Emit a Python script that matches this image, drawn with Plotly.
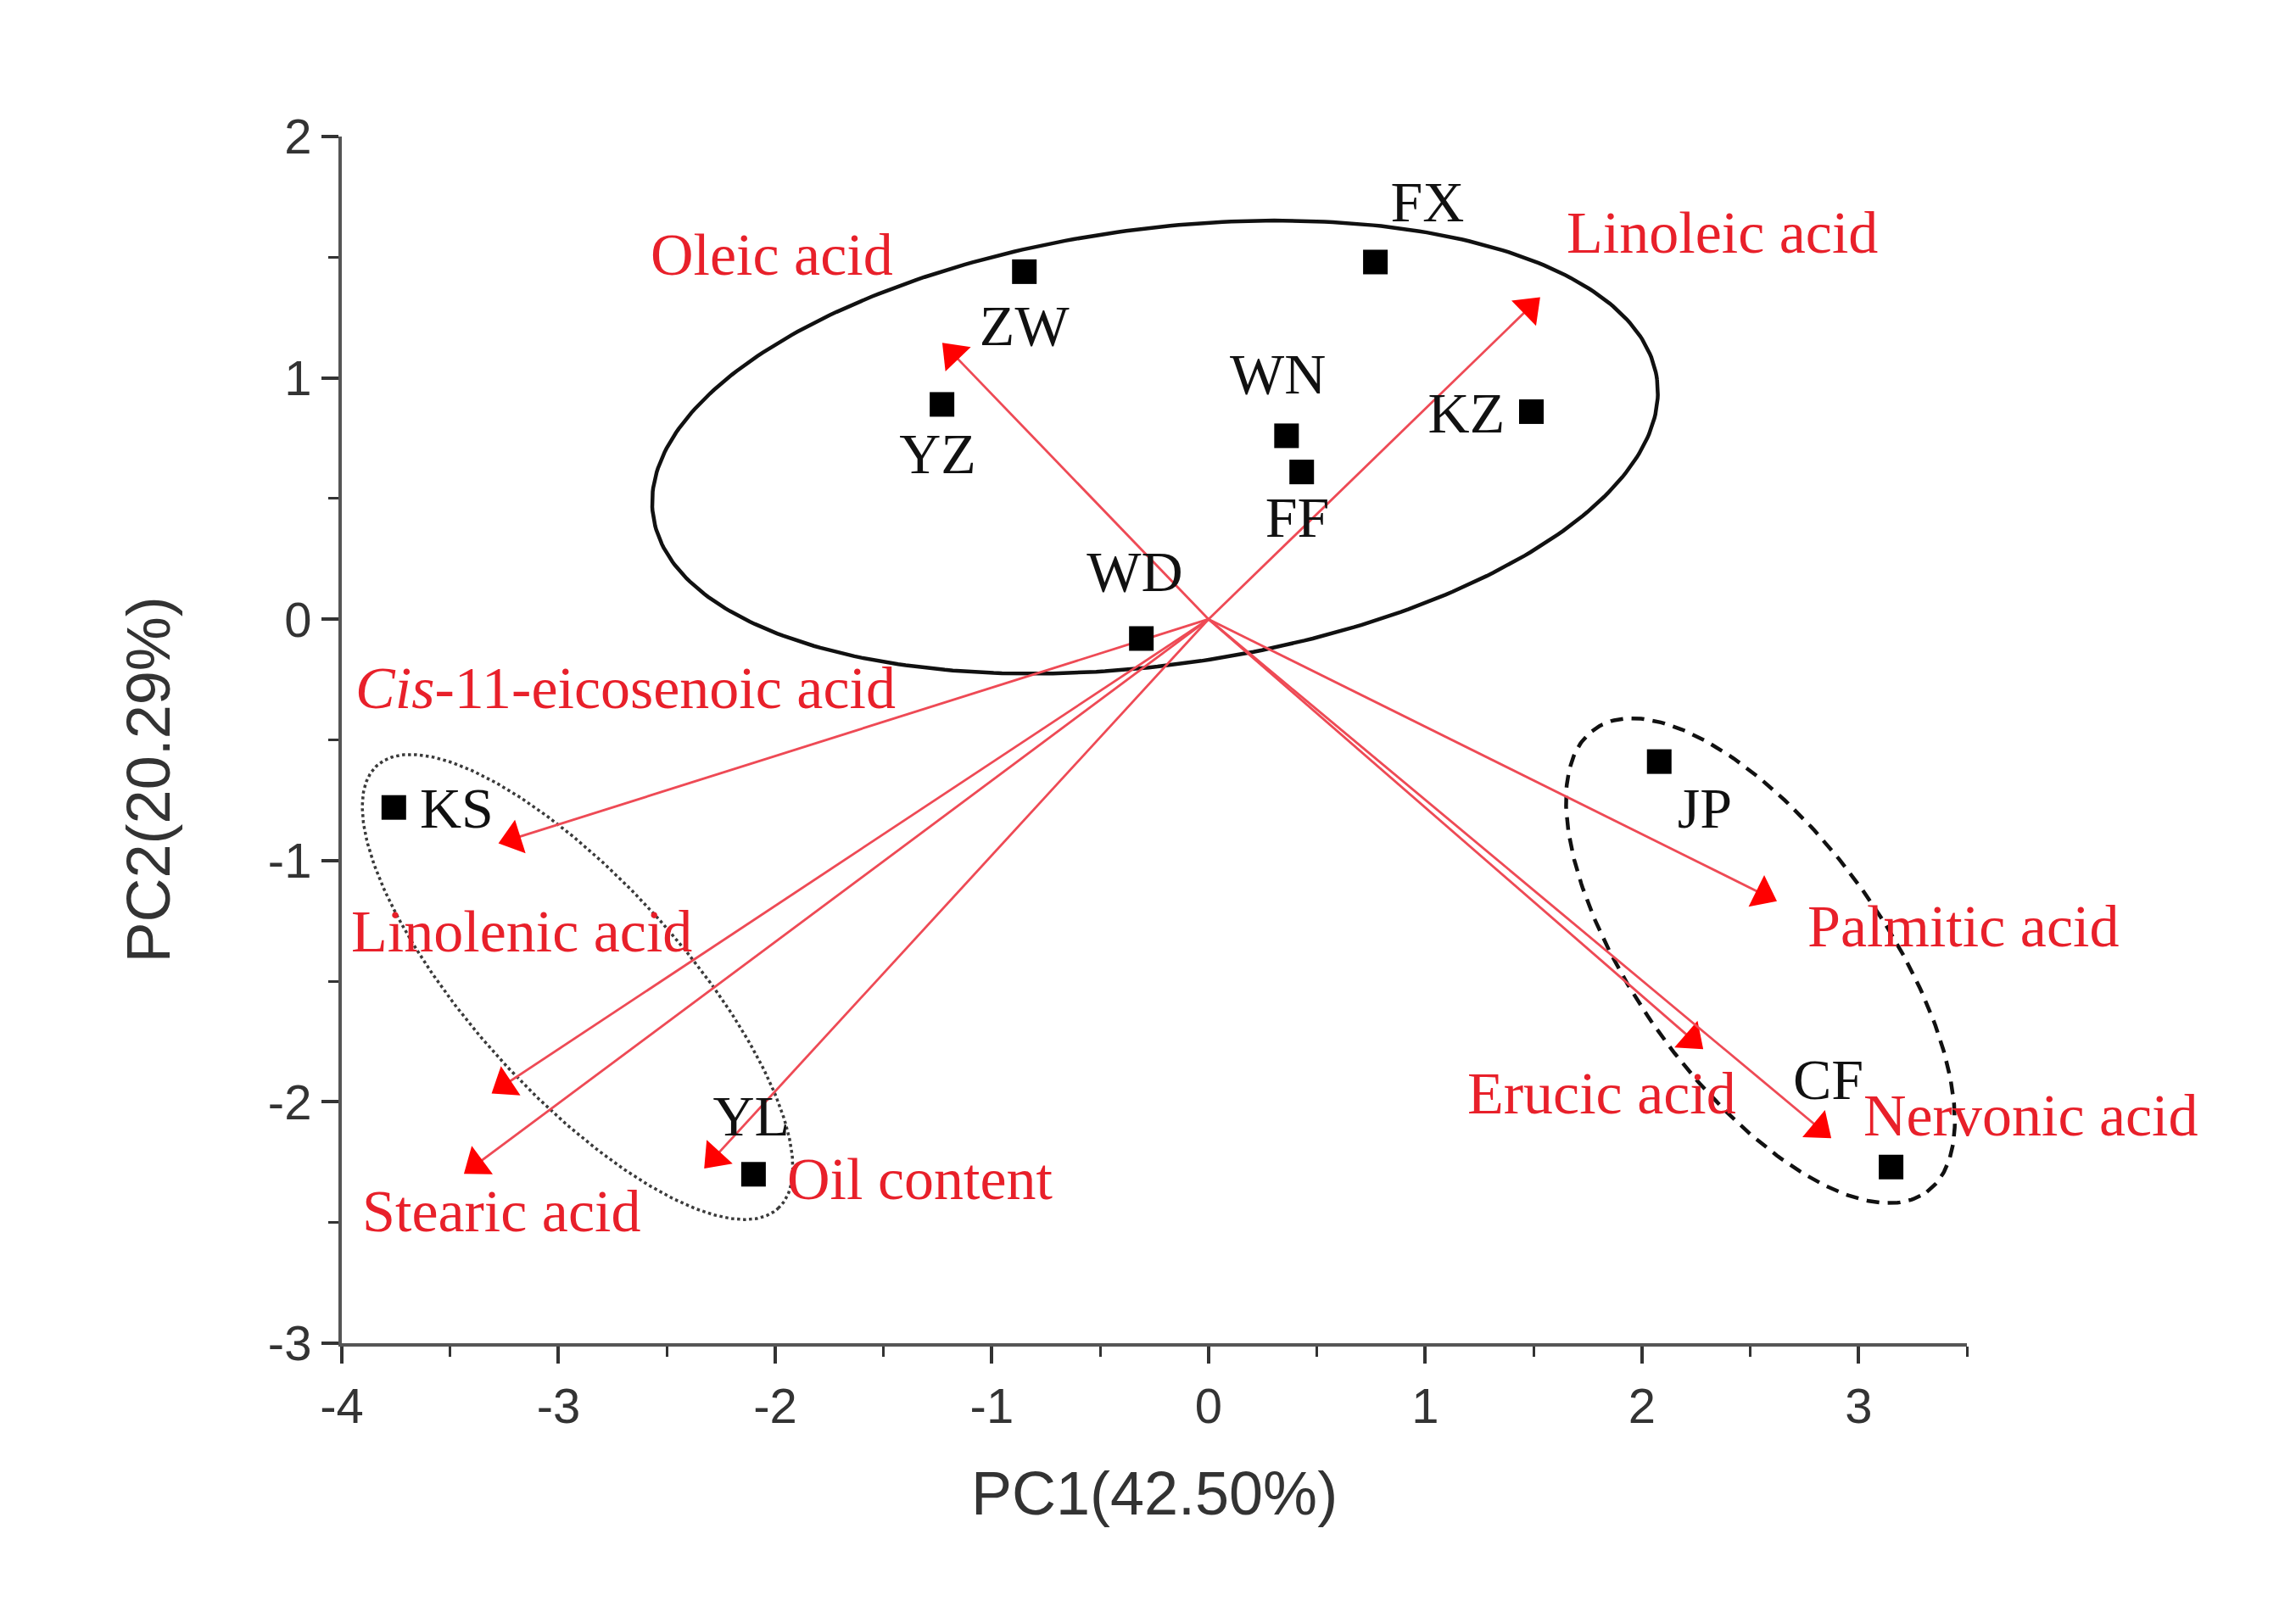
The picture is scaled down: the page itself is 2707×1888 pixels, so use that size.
import numpy as np
import plotly.graph_objects as go

# ---------------- data ----------------
sample_names = ["ZW", "FX", "YZ", "WN", "FF", "KZ", "WD", "KS", "JP", "YL", "CF"]
pc1_scores = [-0.85, 0.77, -1.23, 0.36, 0.43, 1.49, -0.31, -3.76, 2.08, -2.10, 3.15]
pc2_scores = [1.44, 1.48, 0.89, 0.76, 0.61, 0.86, -0.08, -0.78, -0.59, -2.30, -2.27]

variable_names = ["Oleic acid", "Linoleic acid", "<i>Cis</i>-11-eicosenoic acid",
                  "Linolenic acid", "Stearic acid", "Oil content",
                  "Palmitic acid", "Erucic acid", "Nervonic acid"]
pc1_loadings = [-1.18, 1.48, -3.21, -3.25, -3.38, -2.28, 2.56, 2.23, 2.82]
pc2_loadings = [1.10, 1.29, -0.91, -1.93, -2.26, -2.23, -1.14, -1.74, -2.11]

x_tick_values = [-4, -3, -2, -1, 0, 1, 2, 3]
x_tick_labels = ["-4", "-3", "-2", "-1", "0", "1", "2", "3"]
y_tick_values = [-3, -2, -1, 0, 1, 2]
y_tick_labels = ["-3", "-2", "-1", "0", "1", "2"]
x_title = "PC1(42.50%)"
y_title = "PC2(20.29%)"

# ---------------- layout positions (label placement, ellipses) ----------------
sample_label_x = [-0.85, 1.01, -1.25, 0.32, 0.41, 1.19, -0.34, -3.47, 2.29, -2.11, 2.86]
sample_label_y = [1.195, 1.71, 0.665, 0.994, 0.40, 0.835, 0.177, -0.805, -0.805, -2.08, -1.93]

# left edge / vertical centre of each variable label
variable_label_left = [-2.58, 1.65, -3.94, -3.96, -3.91, -1.95, 2.76, 1.19, 3.02]
variable_label_y = [1.51, 1.60, -0.285, -1.295, -2.455, -2.32, -1.272, -1.965, -2.055]

# ellipse: centre, first half-axis vector, second half-axis vector (data units)
ellipse_centers = [(-0.247, 0.713), (-2.912, -1.524), (2.547, -1.415)]
ellipse_axis_a = [(2.317, 0.280), (0.926, -0.917), (0.768, -0.958)]
ellipse_axis_b = [(0.133, -0.896), (0.360, 0.296), (0.464, 0.302)]
ellipse_styles = [dict(color="#111111", width=4.5, dash="solid"),
                  dict(color="#3a3a3a", width=3.5, dash="dot"),
                  dict(color="#111111", width=4.5, dash="15px,10px")]

RED = "#e8202a"
HEAD_RED = "#ff0000"
ARROW_LINE = "#ee4a55"

fig = go.Figure()

# ellipses
t = np.linspace(0, 2 * np.pi, 361)
for c, a, b, st in zip(ellipse_centers, ellipse_axis_a, ellipse_axis_b, ellipse_styles):
    ex = c[0] + a[0] * np.cos(t) + b[0] * np.sin(t)
    ey = c[1] + a[1] * np.cos(t) + b[1] * np.sin(t)
    fig.add_trace(go.Scatter(x=ex, y=ey, mode="lines", line=st,
                             hoverinfo="skip", showlegend=False))

# loading arrows
for name, lx, ly in zip(variable_names, pc1_loadings, pc2_loadings):
    fig.add_trace(go.Scatter(
        x=[0, lx], y=[0, ly], mode="lines+markers",
        line=dict(color=ARROW_LINE, width=2.8),
        marker=dict(symbol="triangle-up", size=[0, 36], color=HEAD_RED, opacity=1,
                    angleref="previous", line=dict(width=0)),
        name=name, showlegend=False, hoverinfo="skip"))

# sample scores
fig.add_trace(go.Scatter(
    x=pc1_scores, y=pc2_scores, mode="markers",
    marker=dict(symbol="square", size=29, color="black"),
    text=sample_names, showlegend=False))

# sample labels
fig.add_trace(go.Scatter(
    x=sample_label_x, y=sample_label_y, mode="text", text=sample_names,
    textfont=dict(family="Liberation Serif", size=68, color="#111111"),
    cliponaxis=False, showlegend=False, hoverinfo="skip"))

# variable labels (annotations so that labels beyond the axis end still show)
annotations = []
for name, lx, ly in zip(variable_names, variable_label_left, variable_label_y):
    annotations.append(dict(
        text=name, x=lx, y=ly, xref="x", yref="y", xanchor="left", yanchor="middle",
        showarrow=False, borderpad=0,
        font=dict(family="Liberation Serif", size=70, color=RED)))

annotations.append(dict(
    text=y_title, xref="paper", yref="paper", x=-0.119, y=0.467,
    xanchor="center", yanchor="middle", textangle=-90, showarrow=False,
    font=dict(family="Liberation Sans", size=72, color="#333333")))

axis_common = dict(
    showline=True, linecolor="#555555", linewidth=4, mirror=False,
    showgrid=False, zeroline=False,
    ticks="outside", ticklen=20, tickwidth=4, tickcolor="#333333",
    tickfont=dict(family="Liberation Sans", size=58, color="#333333"),
    title_font=dict(family="Liberation Sans", size=72, color="#333333"),
)

fig.update_layout(
    width=2707, height=1888,
    margin=dict(l=403, r=388, t=161, b=304),
    paper_bgcolor="white", plot_bgcolor="white",
    xaxis=dict(range=[-4, 3.5], tickvals=x_tick_values, ticktext=x_tick_labels,
               minor=dict(ticks="outside", dtick=0.5, ticklen=12, tickwidth=3,
                          tickcolor="#333333"),
               title=dict(text=x_title, standoff=48), **axis_common),
    yaxis=dict(range=[-3, 2], tickvals=y_tick_values, ticktext=y_tick_labels,
               minor=dict(ticks="outside", dtick=0.5, ticklen=12, tickwidth=3,
                          tickcolor="#333333"),
               **axis_common),
    annotations=annotations,
)

fig.write_html("out.html", config={"displayModeBar": False},
               post_script="document.body.style.margin='0';document.body.style.overflow='hidden';")
